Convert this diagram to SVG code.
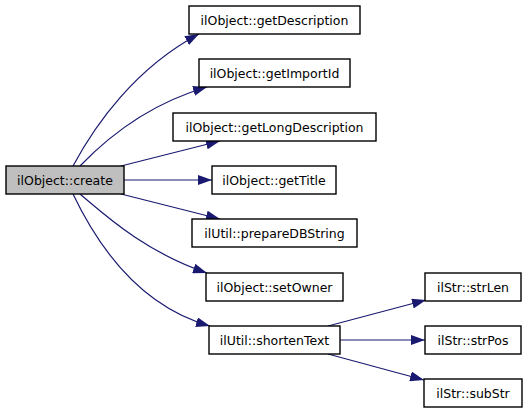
<svg xmlns="http://www.w3.org/2000/svg" width="528" height="413" viewBox="0 0 528 413">
<defs>
<style>
.n rect{fill:#fff;stroke:#000;stroke-width:1.4}
.n.root rect{fill:#bfbfbf}
.n text{font-family:"DejaVu Sans",sans-serif;font-size:12.5px;fill:#000;text-anchor:middle}
.e path{fill:none;stroke:#191970;stroke-width:1.2;marker-end:url(#ah)}
</style>
<marker id="ah" viewBox="0 0 14 10" refX="14" refY="5" markerWidth="14" markerHeight="10" markerUnits="userSpaceOnUse" orient="auto">
<path d="M0,0 L14,5 L0,10 Z" fill="#191970"/>
</marker>
</defs>
<rect width="528" height="413" fill="#fff"/>
<g id="edges" class="e">
<path d="M73,166 C95,125 135,68 199,34"/>
<path d="M80,166 C105,140 145,105 207,87"/>
<path d="M121,166 L220,141"/>
<path d="M124,180 L212,180"/>
<path d="M121,194 L220,219"/>
<path d="M80,194 C105,215 145,252 207,273"/>
<path d="M73,194 C95,240 135,305 210,326"/>
<path d="M328,326 L426,300"/>
<path d="M340,340 L425,340"/>
<path d="M328,354 L424,380"/>
</g>
<g id="create" class="n root"><rect x="6" y="166" width="118" height="28"/><text x="65" y="184.5">ilObject::create</text></g>
<g id="getDescription" class="n"><rect x="189" y="6" width="171" height="28"/><text x="274.5" y="24.5">ilObject::getDescription</text></g>
<g id="getImportId" class="n"><rect x="199" y="59" width="151" height="28"/><text x="274.5" y="77.5">ilObject::getImportId</text></g>
<g id="getLongDescription" class="n"><rect x="173" y="113" width="203" height="28"/><text x="274.5" y="131.5">ilObject::getLongDescription</text></g>
<g id="getTitle" class="n"><rect x="212" y="166" width="124" height="28"/><text x="274" y="184.5">ilObject::getTitle</text></g>
<g id="prepareDBString" class="n"><rect x="192" y="219" width="165" height="28"/><text x="274.5" y="237.5">ilUtil::prepareDBString</text></g>
<g id="setOwner" class="n"><rect x="206" y="273" width="137" height="28"/><text x="274.5" y="291.5">ilObject::setOwner</text></g>
<g id="shortenText" class="n"><rect x="209" y="326" width="131" height="28"/><text x="274.5" y="344.5">ilUtil::shortenText</text></g>
<g id="strLen" class="n"><rect x="425" y="273" width="96" height="28"/><text x="473" y="291.5">ilStr::strLen</text></g>
<g id="strPos" class="n"><rect x="425" y="326" width="96" height="28"/><text x="473" y="344.5">ilStr::strPos</text></g>
<g id="subStr" class="n"><rect x="424" y="379" width="98" height="28"/><text x="473" y="397.5">ilStr::subStr</text></g>
</svg>
